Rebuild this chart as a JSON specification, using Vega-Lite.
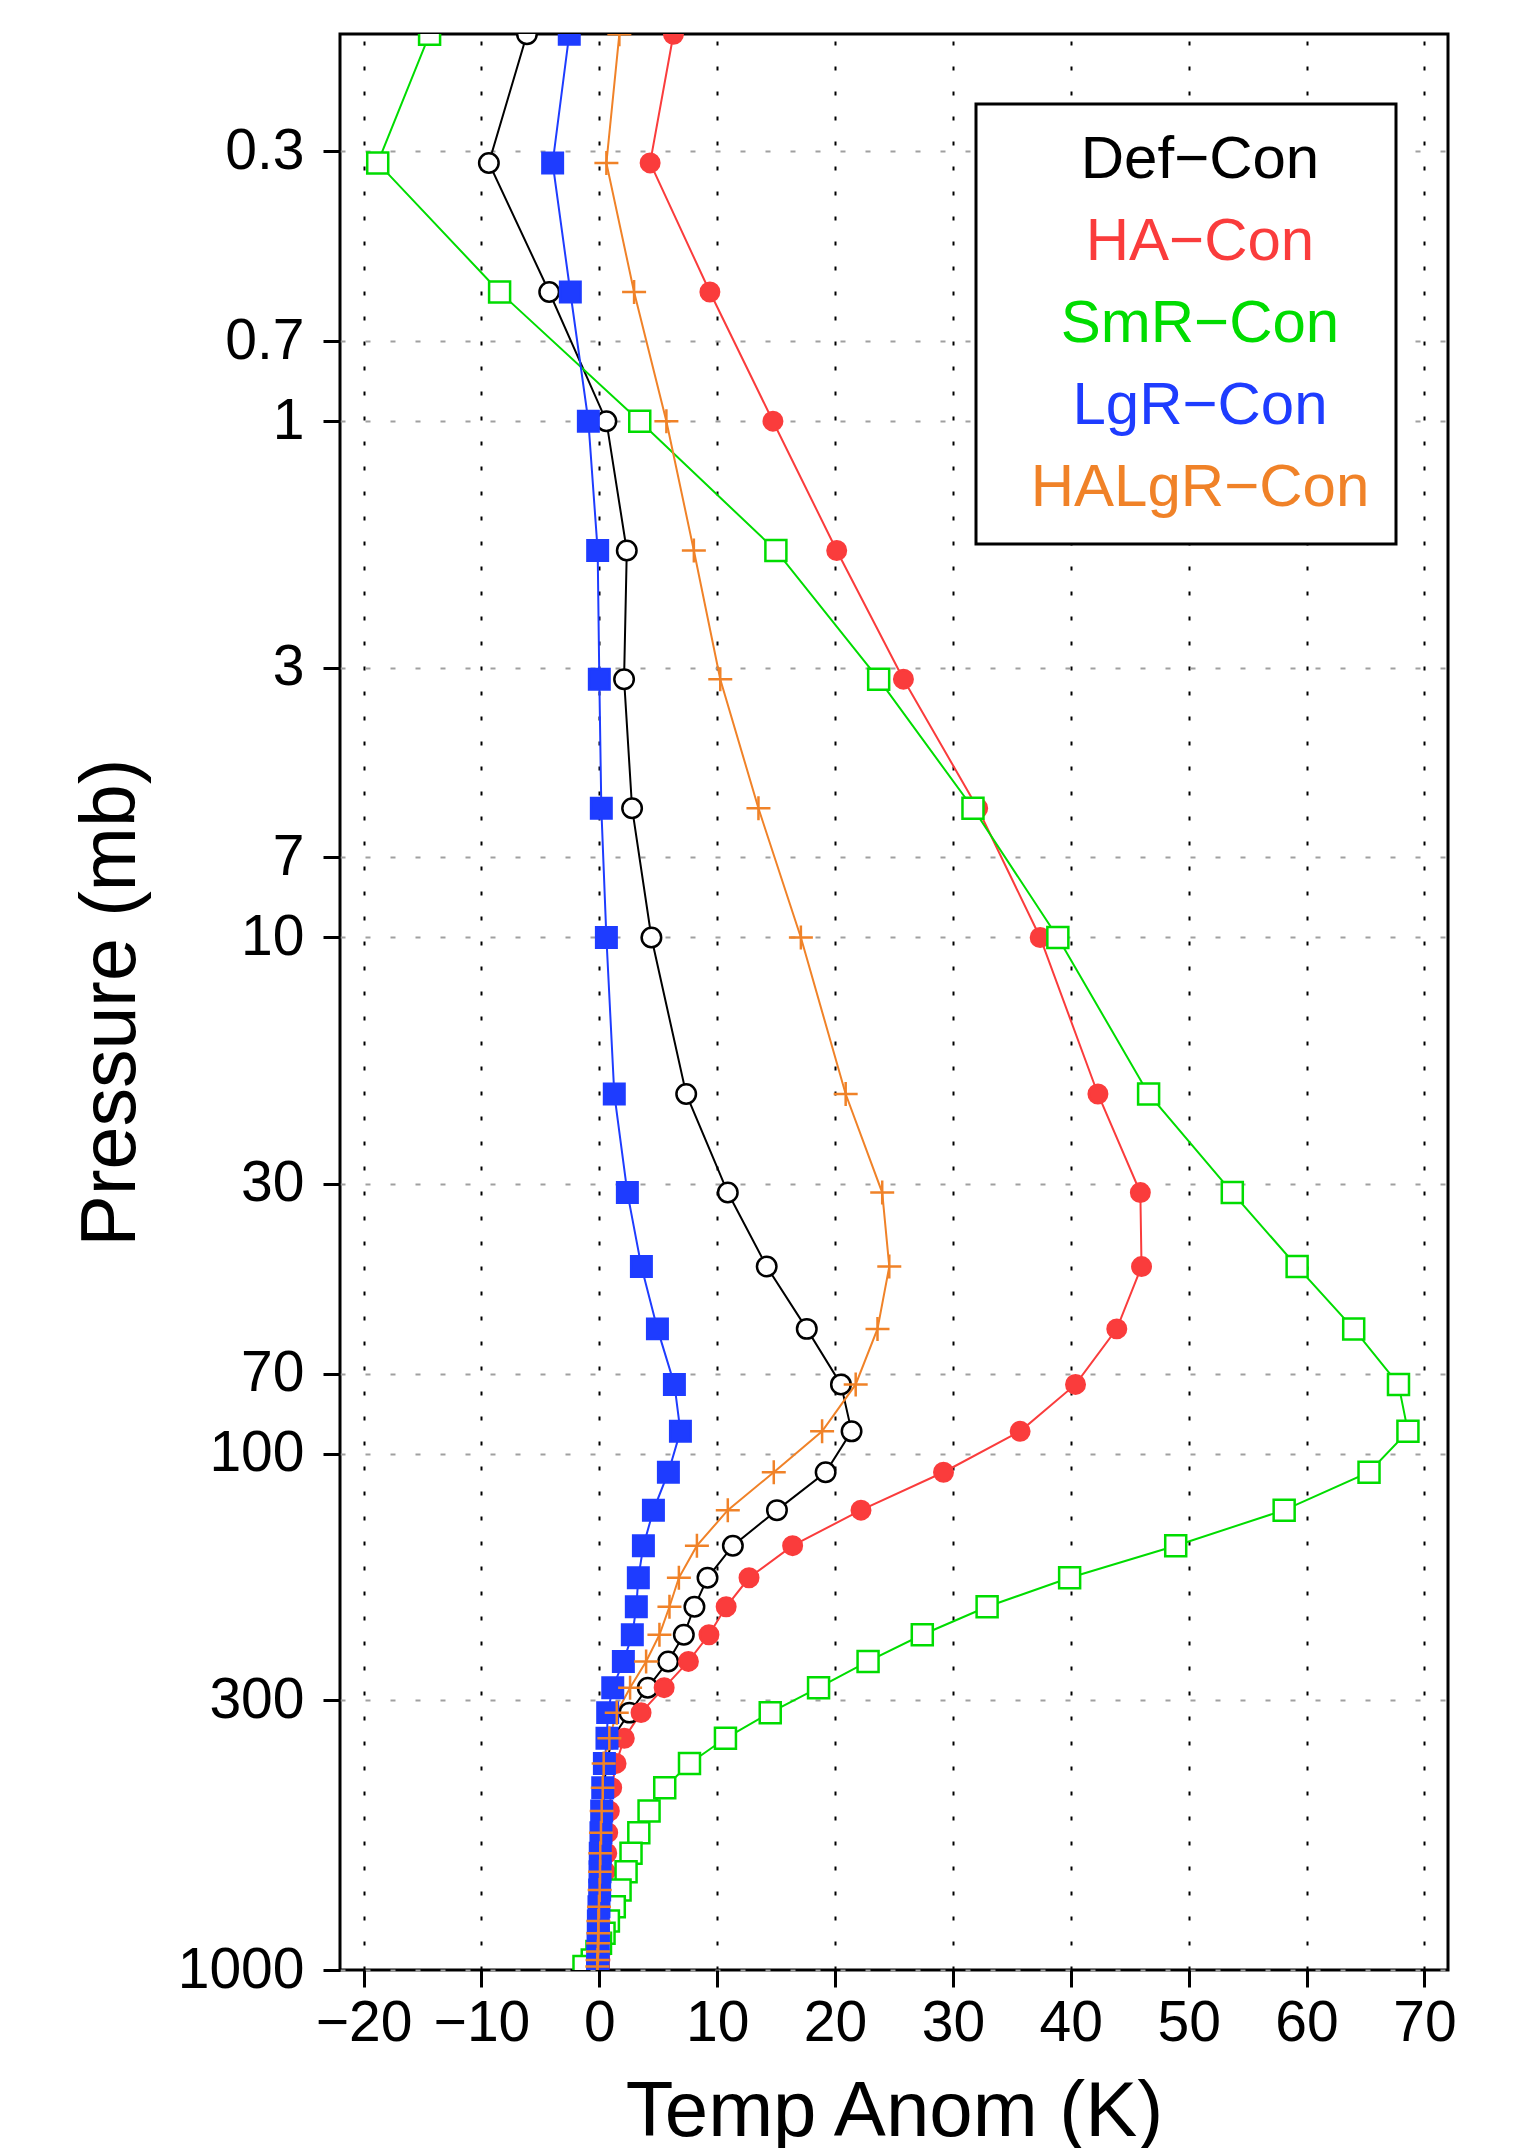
{
  "$schema": "https://vega.github.io/schema/vega-lite/v6.json",
  "autosize": {"type": "none"},
  "width": 1108,
  "height": 1936,
  "padding": {"left": 340, "top": 34, "right": 84, "bottom": 178},
  "background": "white",
  "title": {"text": "Temp Anom Diff (Avg over 20S-20N)", "fontSize": 82, "font": "Liberation Sans", "fontWeight": "normal", "anchor": "start", "frame": "group", "baseline": "alphabetic", "offset": 45, "dx": -100, "color": "black"},
  "config": {"view": {"stroke": "black", "strokeWidth": 3}, "font": "Liberation Sans"},
  "data": {"values": [
{"series":"Def−Con","pres":0.178,"anom":-6.14},{"series":"Def−Con","pres":0.316,"anom":-9.37},{"series":"Def−Con","pres":0.562,"anom":-4.25},{"series":"Def−Con","pres":1,"anom":0.6},{"series":"Def−Con","pres":1.78,"anom":2.33},{"series":"Def−Con","pres":3.16,"anom":2.1},{"series":"Def−Con","pres":5.62,"anom":2.78},{"series":"Def−Con","pres":10,"anom":4.42},{"series":"Def−Con","pres":20.1,"anom":7.37},{"series":"Def−Con","pres":31.2,"anom":10.9},{"series":"Def−Con","pres":43.4,"anom":14.2},{"series":"Def−Con","pres":57.3,"anom":17.6},{"series":"Def−Con","pres":73.4,"anom":20.5},{"series":"Def−Con","pres":90.5,"anom":21.4},{"series":"Def−Con","pres":108.6,"anom":19.2},{"series":"Def−Con","pres":128.6,"anom":15.07},{"series":"Def−Con","pres":150.7,"anom":11.33},{"series":"Def−Con","pres":173.9,"anom":9.18},{"series":"Def−Con","pres":197.9,"anom":8.07},{"series":"Def−Con","pres":224.2,"anom":7.17},{"series":"Def−Con","pres":252.5,"anom":5.84},{"series":"Def−Con","pres":283.9,"anom":4.11},{"series":"Def−Con","pres":317.3,"anom":2.55},{"series":"Def−Con","pres":355.8,"anom":1.1},{"series":"Def−Con","pres":398,"anom":0.6},{"series":"Def−Con","pres":443.6,"anom":0.4},{"series":"Def−Con","pres":492,"anom":0.3},{"series":"Def−Con","pres":542,"anom":0.2},{"series":"Def−Con","pres":594,"anom":0.15},{"series":"Def−Con","pres":645,"anom":0.1},{"series":"Def−Con","pres":700,"anom":0.07},{"series":"Def−Con","pres":754,"anom":0.05},{"series":"Def−Con","pres":804,"anom":0.02},{"series":"Def−Con","pres":849,"anom":0},{"series":"Def−Con","pres":888,"anom":0},{"series":"Def−Con","pres":921,"anom":-0.02},{"series":"Def−Con","pres":956,"anom":-0.04},{"series":"Def−Con","pres":984,"anom":-0.05},
{"series":"HA−Con","pres":0.178,"anom":6.29},{"series":"HA−Con","pres":0.316,"anom":4.31},{"series":"HA−Con","pres":0.562,"anom":9.38},{"series":"HA−Con","pres":1,"anom":14.73},{"series":"HA−Con","pres":1.78,"anom":20.14},{"series":"HA−Con","pres":3.16,"anom":25.8},{"series":"HA−Con","pres":5.62,"anom":32.1},{"series":"HA−Con","pres":10,"anom":37.4},{"series":"HA−Con","pres":20.1,"anom":42.3},{"series":"HA−Con","pres":31.2,"anom":45.9},{"series":"HA−Con","pres":43.4,"anom":46.0},{"series":"HA−Con","pres":57.3,"anom":43.9},{"series":"HA−Con","pres":73.4,"anom":40.4},{"series":"HA−Con","pres":90.5,"anom":35.7},{"series":"HA−Con","pres":108.6,"anom":29.2},{"series":"HA−Con","pres":128.6,"anom":22.2},{"series":"HA−Con","pres":150.7,"anom":16.4},{"series":"HA−Con","pres":173.9,"anom":12.7},{"series":"HA−Con","pres":197.9,"anom":10.76},{"series":"HA−Con","pres":224.2,"anom":9.3},{"series":"HA−Con","pres":252.5,"anom":7.56},{"series":"HA−Con","pres":283.9,"anom":5.5},{"series":"HA−Con","pres":317.3,"anom":3.54},{"series":"HA−Con","pres":355.8,"anom":2.12},{"series":"HA−Con","pres":398,"anom":1.42},{"series":"HA−Con","pres":443.6,"anom":1.05},{"series":"HA−Con","pres":492,"anom":0.85},{"series":"HA−Con","pres":542,"anom":0.71},{"series":"HA−Con","pres":594,"anom":0.63},{"series":"HA−Con","pres":645,"anom":0.5},{"series":"HA−Con","pres":700,"anom":0.4},{"series":"HA−Con","pres":754,"anom":0.3},{"series":"HA−Con","pres":804,"anom":0.25},{"series":"HA−Con","pres":849,"anom":0.2},{"series":"HA−Con","pres":888,"anom":0.15},{"series":"HA−Con","pres":921,"anom":0.1},{"series":"HA−Con","pres":956,"anom":0.05},{"series":"HA−Con","pres":984,"anom":0},
{"series":"SmR−Con","pres":0.178,"anom":-14.4},{"series":"SmR−Con","pres":0.316,"anom":-18.8},{"series":"SmR−Con","pres":0.562,"anom":-8.46},{"series":"SmR−Con","pres":1,"anom":3.43},{"series":"SmR−Con","pres":1.78,"anom":14.98},{"series":"SmR−Con","pres":3.16,"anom":23.7},{"series":"SmR−Con","pres":5.62,"anom":31.7},{"series":"SmR−Con","pres":10,"anom":38.9},{"series":"SmR−Con","pres":20.1,"anom":46.6},{"series":"SmR−Con","pres":31.2,"anom":53.7},{"series":"SmR−Con","pres":43.4,"anom":59.2},{"series":"SmR−Con","pres":57.3,"anom":64.0},{"series":"SmR−Con","pres":73.4,"anom":67.8},{"series":"SmR−Con","pres":90.5,"anom":68.6},{"series":"SmR−Con","pres":108.6,"anom":65.3},{"series":"SmR−Con","pres":128.6,"anom":58.1},{"series":"SmR−Con","pres":150.7,"anom":48.9},{"series":"SmR−Con","pres":173.9,"anom":39.9},{"series":"SmR−Con","pres":197.9,"anom":32.9},{"series":"SmR−Con","pres":224.2,"anom":27.4},{"series":"SmR−Con","pres":252.5,"anom":22.8},{"series":"SmR−Con","pres":283.9,"anom":18.6},{"series":"SmR−Con","pres":317.3,"anom":14.5},{"series":"SmR−Con","pres":355.8,"anom":10.7},{"series":"SmR−Con","pres":398,"anom":7.65},{"series":"SmR−Con","pres":443.6,"anom":5.55},{"series":"SmR−Con","pres":492,"anom":4.22},{"series":"SmR−Con","pres":542,"anom":3.35},{"series":"SmR−Con","pres":594,"anom":2.69},{"series":"SmR−Con","pres":645,"anom":2.27},{"series":"SmR−Con","pres":700,"anom":1.76},{"series":"SmR−Con","pres":754,"anom":1.27},{"series":"SmR−Con","pres":804,"anom":0.77},{"series":"SmR−Con","pres":849,"anom":0.4},{"series":"SmR−Con","pres":888,"anom":0.1},{"series":"SmR−Con","pres":921,"anom":-0.2},{"series":"SmR−Con","pres":956,"anom":-0.6},{"series":"SmR−Con","pres":984,"anom":-1.3},
{"series":"LgR−Con","pres":0.178,"anom":-2.55},{"series":"LgR−Con","pres":0.316,"anom":-3.96},{"series":"LgR−Con","pres":0.562,"anom":-2.46},{"series":"LgR−Con","pres":1,"anom":-0.93},{"series":"LgR−Con","pres":1.78,"anom":-0.14},{"series":"LgR−Con","pres":3.16,"anom":0.0},{"series":"LgR−Con","pres":5.62,"anom":0.17},{"series":"LgR−Con","pres":10,"anom":0.6},{"series":"LgR−Con","pres":20.1,"anom":1.27},{"series":"LgR−Con","pres":31.2,"anom":2.38},{"series":"LgR−Con","pres":43.4,"anom":3.57},{"series":"LgR−Con","pres":57.3,"anom":4.93},{"series":"LgR−Con","pres":73.4,"anom":6.37},{"series":"LgR−Con","pres":90.5,"anom":6.88},{"series":"LgR−Con","pres":108.6,"anom":5.86},{"series":"LgR−Con","pres":128.6,"anom":4.59},{"series":"LgR−Con","pres":150.7,"anom":3.74},{"series":"LgR−Con","pres":173.9,"anom":3.31},{"series":"LgR−Con","pres":197.9,"anom":3.14},{"series":"LgR−Con","pres":224.2,"anom":2.8},{"series":"LgR−Con","pres":252.5,"anom":2.04},{"series":"LgR−Con","pres":283.9,"anom":1.14},{"series":"LgR−Con","pres":317.3,"anom":0.71},{"series":"LgR−Con","pres":355.8,"anom":0.65},{"series":"LgR−Con","pres":398,"anom":0.43},{"series":"LgR−Con","pres":443.6,"anom":0.29},{"series":"LgR−Con","pres":492,"anom":0.2},{"series":"LgR−Con","pres":542,"anom":0.14},{"series":"LgR−Con","pres":594,"anom":0.08},{"series":"LgR−Con","pres":645,"anom":0.06},{"series":"LgR−Con","pres":700,"anom":0.03},{"series":"LgR−Con","pres":754,"anom":-0.03},{"series":"LgR−Con","pres":804,"anom":-0.08},{"series":"LgR−Con","pres":849,"anom":-0.08},{"series":"LgR−Con","pres":888,"anom":-0.1},{"series":"LgR−Con","pres":921,"anom":-0.12},{"series":"LgR−Con","pres":956,"anom":-0.12},{"series":"LgR−Con","pres":984,"anom":-0.15},
{"series":"HALgR−Con","pres":0.178,"anom":1.7},{"series":"HALgR−Con","pres":0.316,"anom":0.6},{"series":"HALgR−Con","pres":0.562,"anom":2.95},{"series":"HALgR−Con","pres":1,"anom":5.69},{"series":"HALgR−Con","pres":1.78,"anom":8.02},{"series":"HALgR−Con","pres":3.16,"anom":10.26},{"series":"HALgR−Con","pres":5.62,"anom":13.5},{"series":"HALgR−Con","pres":10,"anom":17.1},{"series":"HALgR−Con","pres":20.1,"anom":20.9},{"series":"HALgR−Con","pres":31.2,"anom":24.0},{"series":"HALgR−Con","pres":43.4,"anom":24.6},{"series":"HALgR−Con","pres":57.3,"anom":23.6},{"series":"HALgR−Con","pres":73.4,"anom":21.75},{"series":"HALgR−Con","pres":90.5,"anom":18.9},{"series":"HALgR−Con","pres":108.6,"anom":14.8},{"series":"HALgR−Con","pres":128.6,"anom":10.9},{"series":"HALgR−Con","pres":150.7,"anom":8.28},{"series":"HALgR−Con","pres":173.9,"anom":6.75},{"series":"HALgR−Con","pres":197.9,"anom":5.95},{"series":"HALgR−Con","pres":224.2,"anom":5.1},{"series":"HALgR−Con","pres":252.5,"anom":3.97},{"series":"HALgR−Con","pres":283.9,"anom":2.61},{"series":"HALgR−Con","pres":317.3,"anom":1.48},{"series":"HALgR−Con","pres":355.8,"anom":0.85},{"series":"HALgR−Con","pres":398,"anom":0.37},{"series":"HALgR−Con","pres":443.6,"anom":0.29},{"series":"HALgR−Con","pres":492,"anom":0.2},{"series":"HALgR−Con","pres":542,"anom":0.14},{"series":"HALgR−Con","pres":594,"anom":0.08},{"series":"HALgR−Con","pres":645,"anom":0.06},{"series":"HALgR−Con","pres":700,"anom":0.03},{"series":"HALgR−Con","pres":754,"anom":-0.03},{"series":"HALgR−Con","pres":804,"anom":-0.08},{"series":"HALgR−Con","pres":849,"anom":-0.08},{"series":"HALgR−Con","pres":888,"anom":-0.1},{"series":"HALgR−Con","pres":921,"anom":-0.12},{"series":"HALgR−Con","pres":956,"anom":-0.15},{"series":"HALgR−Con","pres":984,"anom":-0.17}
  ]},
  "encoding": {
    "x": {"field": "anom", "type": "quantitative",
      "scale": {"domain": [-22, 72], "nice": false, "zero": false},
      "axis": {"values": [-20, -10, 0, 10, 20, 30, 40, 50, 60, 70], "format": "d",
        "title": "Temp Anom (K)", "titleFontSize": 78, "titleFont": "Liberation Sans", "titleFontWeight": "normal", "titleColor": "black",
        "titleX": 554, "titleY": 165, "titleBaseline": "alphabetic", "titleAlign": "center",
        "labelFontSize": 57, "labelFont": "Liberation Sans", "labelColor": "black", "labelBaseline": "alphabetic", "labelPadding": 53,
        "labelFlush": false, "labelOverlap": false,
        "tickSize": 17, "tickWidth": 3, "tickColor": "black", "domain": false,
        "grid": true, "gridColor": "black", "gridDash": [4, 21], "gridWidth": 2, "gridOpacity": 1}},
    "y": {"field": "pres", "type": "quantitative",
      "scale": {"type": "log", "domain": [0.17783, 1000], "reverse": true, "nice": false},
      "axis": {"values": [0.3, 0.7, 1, 3, 7, 10, 30, 70, 100, 300, 1000], "labelExpr": "'' + datum.value",
        "title": "Pressure (mb)", "titleFontSize": 77, "titleFont": "Liberation Sans", "titleFontWeight": "normal", "titleColor": "black",
        "titleAngle": -90, "titleX": -206, "titleY": 968, "titleAlign": "center", "titleBaseline": "alphabetic",
        "labelFontSize": 57, "labelFont": "Liberation Sans", "labelColor": "black", "labelPadding": 19, "labelBaseline": "middle",
        "labelFlush": false, "labelOverlap": false,
        "tickSize": 17, "tickWidth": 3, "tickColor": "black", "domain": false,
        "grid": true, "gridColor": "#a0a0a0", "gridDash": [5, 20], "gridWidth": 2, "gridOpacity": 1}}
  },
  "layer": [
    {"mark": {"type": "line", "strokeWidth": 2, "clip": true},
     "encoding": {
       "order": {"field": "pres", "type": "quantitative"},
       "stroke": {"field": "series", "type": "nominal",
         "scale": {"domain": ["Def−Con", "HA−Con", "SmR−Con", "LgR−Con", "HALgR−Con"], "range": ["#000000", "#fa3c3c", "#00dc00", "#1e3cff", "#f08228"]},
         "legend": {"title": null, "orient": "none", "legendX": 636, "legendY": 70,
           "strokeColor": "black", "fillColor": "white", "padding": 26,
           "labelFontSize": 60, "labelFont": "Liberation Sans", "labelLimit": 0,
           "symbolType": "circle", "symbolSize": 0, "symbolStrokeWidth": 0, "symbolOpacity": 0,
           "rowPadding": 22, "labelAlign": "center", "labelOffset": 138,
           "encode": {"labels": {"update": {"fill": {"scale": "stroke", "field": "value"}}}, "legend": {"update": {"strokeWidth": {"value": 3}}}}}}
     }},
    {"mark": {"type": "point", "clip": true, "strokeWidth": 2.5, "opacity": 1},
     "encoding": {
       "stroke": {"field": "series", "type": "nominal",
         "scale": {"domain": ["Def−Con", "HA−Con", "SmR−Con", "LgR−Con", "HALgR−Con"], "range": ["#000000", "#fa3c3c", "#00dc00", "#1e3cff", "#f08228"]},
         "legend": {"title": null, "orient": "none", "legendX": 636, "legendY": 70,
           "strokeColor": "black", "fillColor": "white", "padding": 26,
           "labelFontSize": 60, "labelFont": "Liberation Sans", "labelLimit": 0,
           "symbolType": "circle", "symbolSize": 0, "symbolStrokeWidth": 0, "symbolOpacity": 0,
           "rowPadding": 22, "labelAlign": "center", "labelOffset": 138,
           "encode": {"labels": {"update": {"fill": {"scale": "stroke", "field": "value"}}}, "legend": {"update": {"strokeWidth": {"value": 3}}}}}},
       "fill": {"field": "series", "type": "nominal", "legend": null,
         "scale": {"domain": ["Def−Con", "HA−Con", "SmR−Con", "LgR−Con", "HALgR−Con"], "range": ["#ffffff", "#fa3c3c", "#ffffff", "#1e3cff", "transparent"]}},
       "shape": {"field": "series", "type": "nominal", "legend": null,
         "scale": {"domain": ["Def−Con", "HA−Con", "SmR−Con", "LgR−Con", "HALgR−Con"], "range": ["circle", "circle", "square", "square", "M-1,0L1,0M0,-1L0,1"]}},
       "size": {"field": "series", "type": "nominal", "legend": null,
         "scale": {"type": "ordinal", "domain": ["Def−Con", "HA−Con", "SmR−Con", "LgR−Con", "HALgR−Con"], "range": [380, 342, 441, 420, 576]}}
     }}
  ]
}
